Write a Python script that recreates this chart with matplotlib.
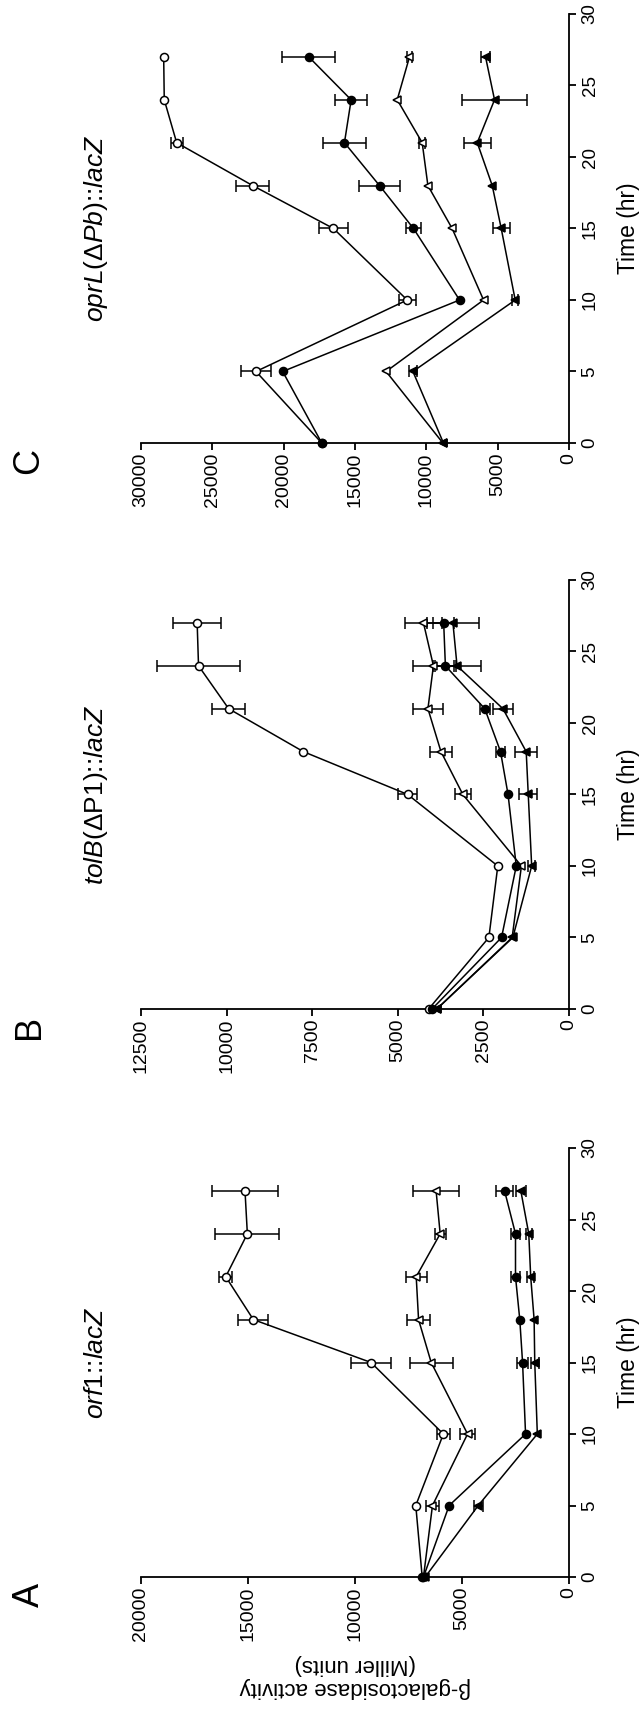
import numpy as np
import matplotlib
matplotlib.use("Agg")
import matplotlib.pyplot as plt

plt.rcParams['font.family'] = ['Liberation Sans', 'DejaVu Sans']
plt.rcParams['mathtext.fontset'] = 'custom'
plt.rcParams['mathtext.rm'] = 'Liberation Sans'
plt.rcParams['mathtext.it'] = 'Liberation Sans:italic'

# sampling times (hr)
time = [0, 5, 10, 15, 18, 21, 24, 27]

# panel A  orf1::lacZ
A_open_circ = [6860, 7160, 5870, 9250, 14750, 16040, 15030, 15140]
A_open_circ_err = [0, 0, 300, 950, 700, 300, 1500, 1550]
A_fill_circ = [6800, 5600, 2030, 2170, 2300, 2500, 2500, 3010]
A_fill_circ_err = [0, 0, 0, 270, 0, 200, 200, 400]
A_open_tri = [6800, 6380, 4740, 6440, 7030, 7140, 6020, 6210]
A_open_tri_err = [0, 300, 360, 1000, 530, 500, 250, 1080]
A_fill_tri = [6720, 4240, 1480, 1600, 1630, 1790, 1880, 2250]
A_fill_tri_err = [0, 200, 0, 180, 0, 150, 150, 250]

# panel B  tolB(dP1)::lacZ
B_open_circ = [4100, 2340, 2080, 4710, 7760, 9940, 10820, 10860]
B_open_circ_err = [0, 0, 0, 280, 0, 490, 1200, 710]
B_fill_circ = [4000, 1970, 1540, 1780, 2000, 2460, 3610, 3660]
B_fill_circ_err = [0, 0, 0, 0, 120, 150, 300, 300]
B_open_tri = [3860, 1660, 1390, 3100, 3740, 4120, 3960, 4250]
B_open_tri_err = [0, 0, 0, 230, 320, 430, 600, 530]
B_fill_tri = [3860, 1640, 1090, 1190, 1250, 1930, 3270, 3390]
B_fill_tri_err = [0, 0, 100, 260, 320, 280, 700, 750]

# panel C  oprL(dPb)::lacZ
C_open_circ = [17330, 21940, 11340, 16510, 22170, 27500, 28370, 28410]
C_open_circ_err = [0, 1030, 600, 1020, 1150, 420, 0, 0]
C_fill_circ = [17330, 20070, 7670, 10900, 13280, 15740, 15270, 18240]
C_fill_circ_err = [0, 0, 0, 520, 1430, 1520, 1120, 1870]
C_open_tri = [8840, 12820, 5990, 8190, 9890, 10290, 12040, 11180]
C_open_tri_err = [0, 0, 0, 0, 0, 200, 0, 200]
C_fill_tri = [8800, 10940, 3770, 4750, 5380, 6430, 5220, 5850]
C_fill_tri_err = [0, 300, 200, 580, 0, 940, 2280, 300]

A_ticks = [0, 5000, 10000, 15000, 20000]
B_ticks = [0, 2500, 5000, 7500, 10000, 12500]
C_ticks = [0, 5000, 10000, 15000, 20000, 25000, 30000]
time_ticks = [0, 5, 10, 15, 20, 25, 30]

W, H = 640, 1710
fig = plt.figure(figsize=(W / 100, H / 100), dpi=100)


def fx(px):
    return px / W


def fy(py):
    return 1 - py / H


def draw_series(ax, vals, errs, marker, filled):
    t = np.array(time, dtype=float)
    v = np.array(vals, dtype=float)
    e = np.array(errs, dtype=float)
    m = e > 0
    ax.errorbar(v[m], t[m], xerr=e[m], fmt='none', ecolor='black',
                elinewidth=1.1, capsize=4.5, capthick=1.1, clip_on=False, zorder=2)
    ax.plot(v, t, color='black', lw=1.1, marker=marker, ms=6.2 if marker == '<' else 5.8,
            mfc='black' if filled else 'white', mec='black', mew=1.1,
            clip_on=False, zorder=3)


panels = [
    ('A', 1577, 20000, A_ticks, r'$\mathit{orf1}$::$\mathit{lacZ}$',
     [(A_open_circ, A_open_circ_err, 'o', False), (A_open_tri, A_open_tri_err, '<', False),
      (A_fill_circ, A_fill_circ_err, 'o', True), (A_fill_tri, A_fill_tri_err, '<', True)]),
    ('B', 1009, 12500, B_ticks, r'$\mathit{tolB}$(ΔP1)::$\mathit{lacZ}$',
     [(B_open_circ, B_open_circ_err, 'o', False), (B_open_tri, B_open_tri_err, '<', False),
      (B_fill_circ, B_fill_circ_err, 'o', True), (B_fill_tri, B_fill_tri_err, '<', True)]),
    ('C', 443, 30000, C_ticks, r'$\mathit{oprL}$(Δ$\mathit{Pb}$)::$\mathit{lacZ}$',
     [(C_open_circ, C_open_circ_err, 'o', False), (C_open_tri, C_open_tri_err, '<', False),
      (C_fill_circ, C_fill_circ_err, 'o', True), (C_fill_tri, C_fill_tri_err, '<', True)]),
]

x0, x1 = 141, 569
for letter, ybase, vmax, vticks, title, series in panels:
    ax = fig.add_axes([fx(x0), fy(ybase), (x1 - x0) / W, 429 / H])
    for vals, errs, marker, filled in series:
        draw_series(ax, vals, errs, marker, filled)
    ax.set_xlim(vmax, 0)
    ax.set_ylim(0, 30)
    ax.set_xticks(vticks)
    ax.set_xticklabels([str(v) for v in vticks])
    ax.set_yticks(time_ticks)
    ax.yaxis.tick_right()
    for s in ['top', 'left']:
        ax.spines[s].set_visible(False)
    for s in ['right', 'bottom']:
        ax.spines[s].set_linewidth(1.3)
    ax.tick_params(axis='x', length=5, width=1.3, pad=2, labelsize=14)
    ax.tick_params(axis='y', length=5, width=1.3, pad=4, labelsize=13.5)
    plt.setp(ax.get_xticklabels(), rotation=90, ha='center', va='top')
    plt.setp(ax.get_yticklabels(), rotation=90, ha='left', va='center')

    ymid = ybase - 214.5
    fig.text(fx(628), fy(ymid), 'Time (hr)', rotation=90, ha='center', va='center', fontsize=16.5)
    fig.text(fx(96), fy(ymid), title, rotation=90, ha='center', va='center', fontsize=19)
    fig.text(fx(29), fy(ybase + 18), letter, rotation=90, ha='center', va='center', fontsize=26)

fig.text(fx(355), fy(1676), 'β-galactosidase activity\n(Miller units)', rotation=180,
         ha='center', va='center', multialignment='center', fontsize=16, linespacing=1.1)

fig.savefig('out.png', dpi=100)
